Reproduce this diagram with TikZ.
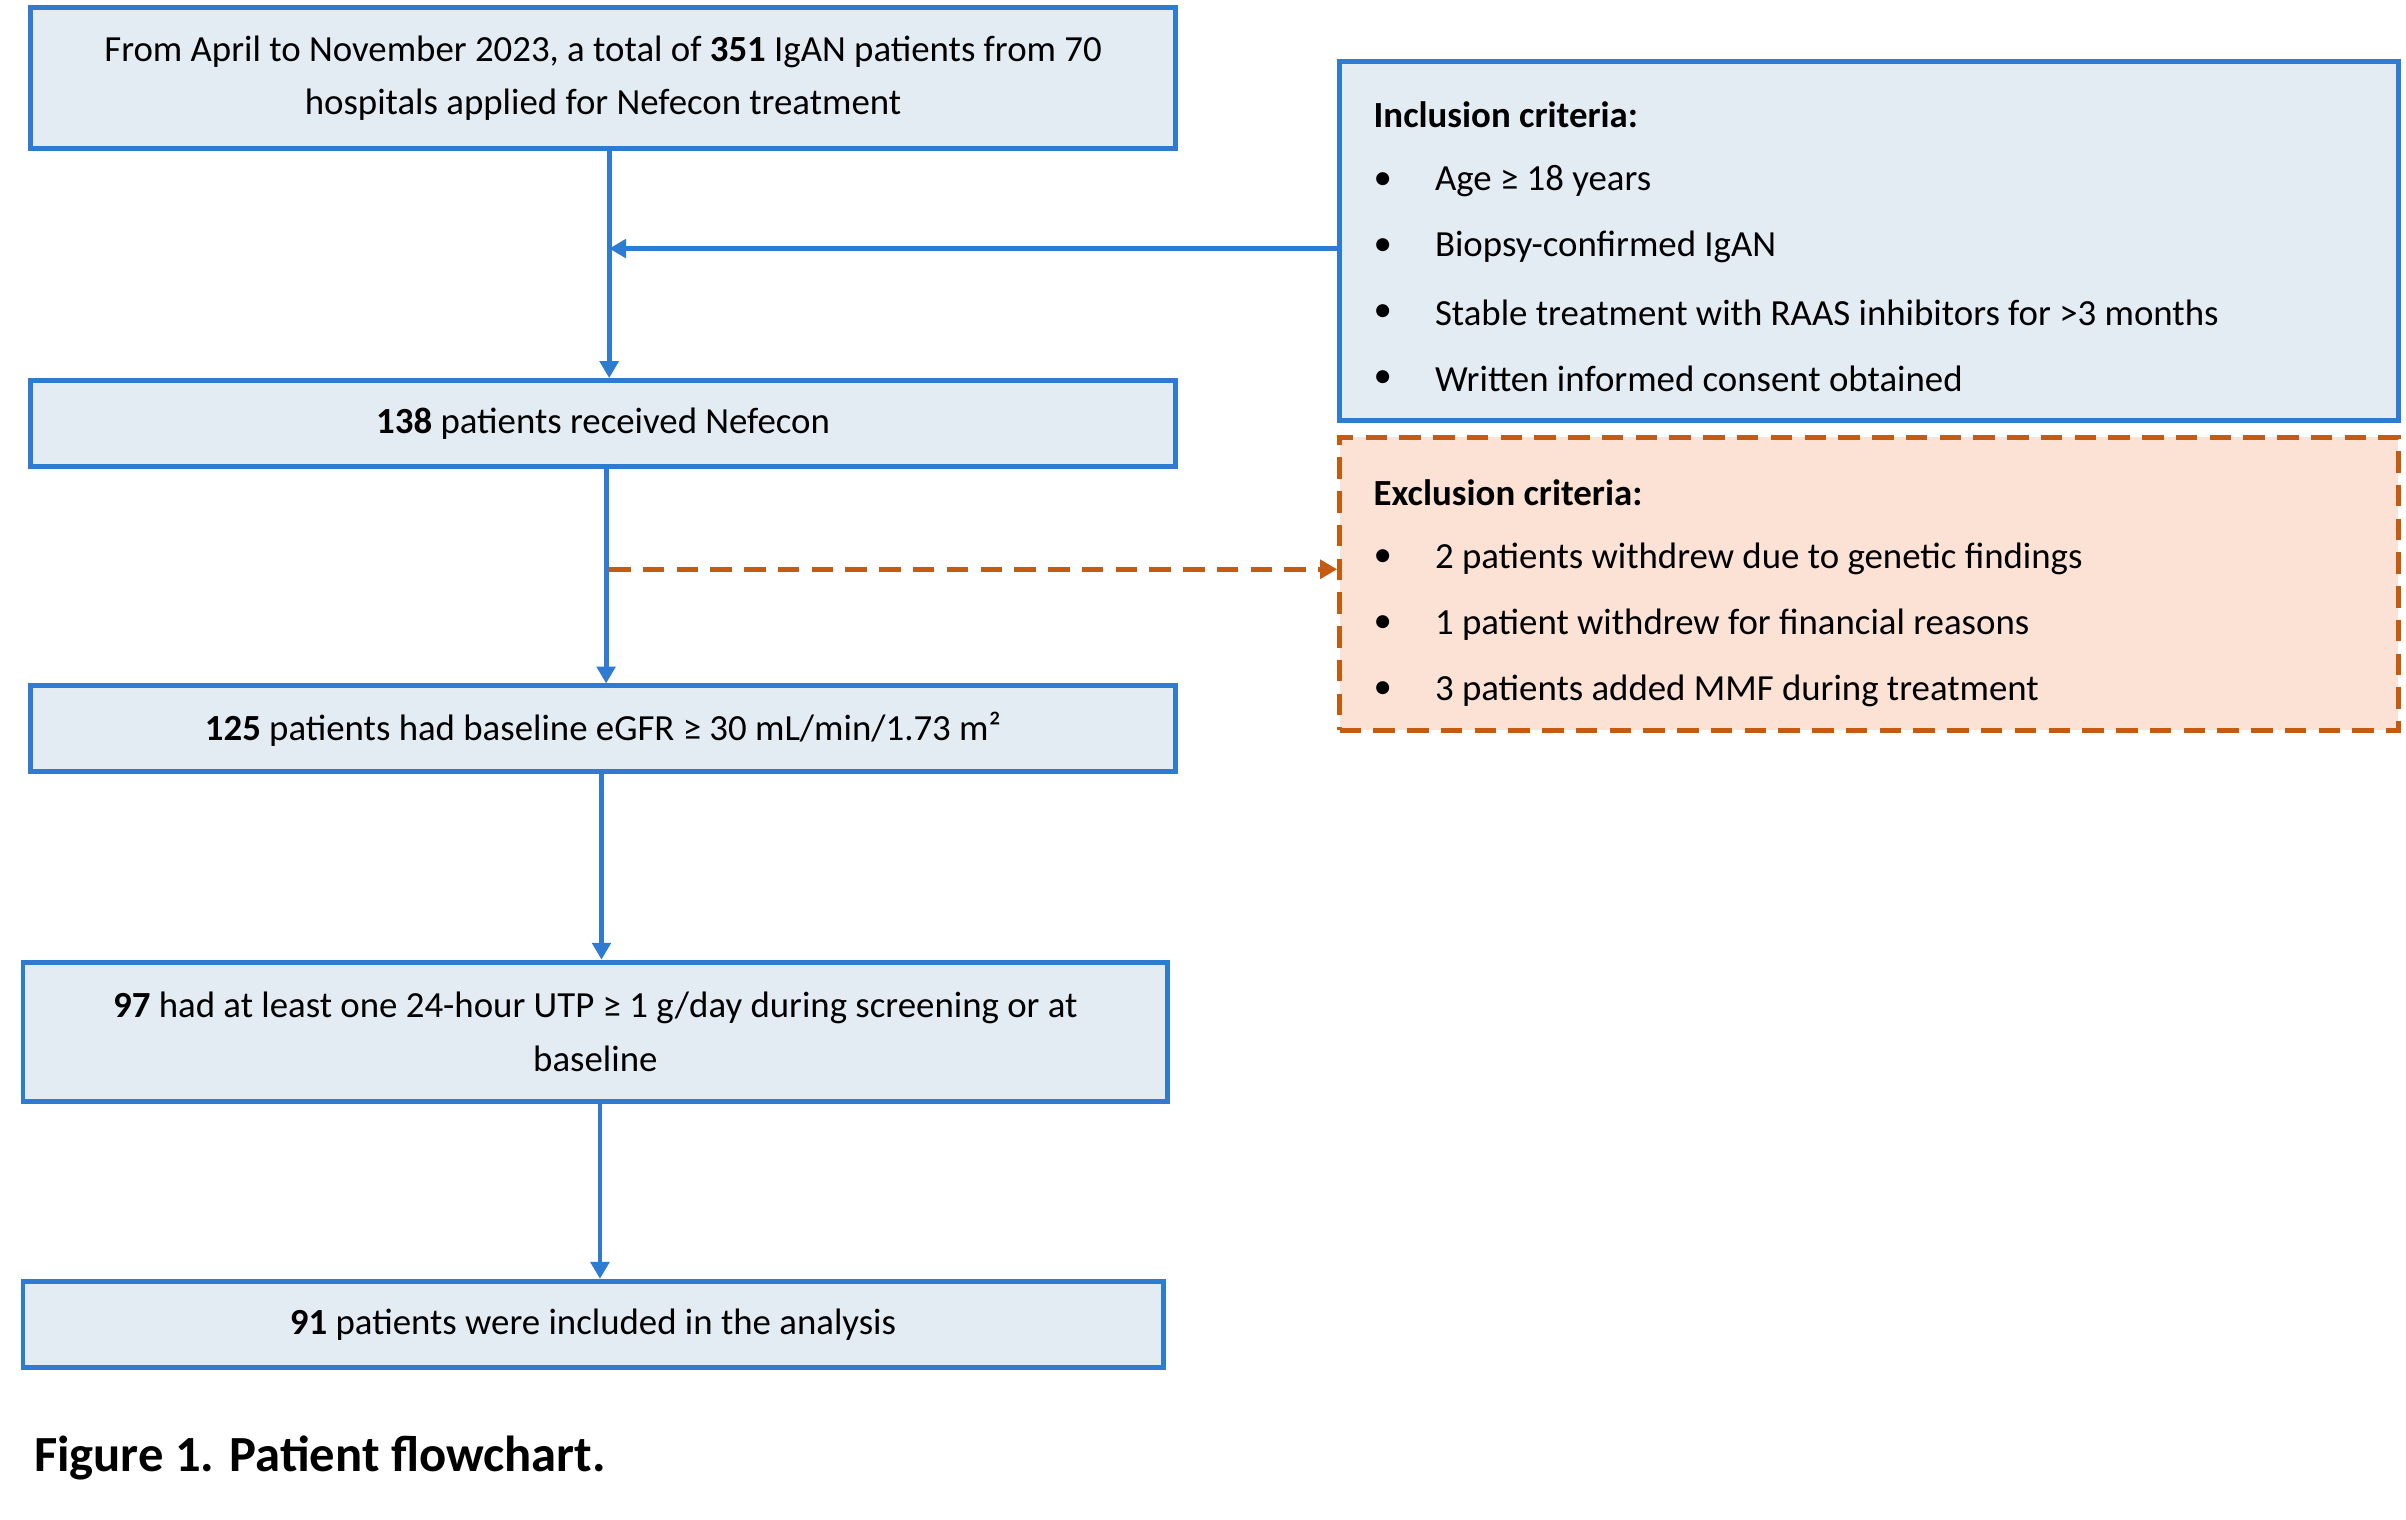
\documentclass[tikz,border=0pt]{standalone}
\usepackage{fontspec}
\setmainfont{Carlito}
\usetikzlibrary{arrows.meta}
\definecolor{bb}{HTML}{2E7BD1}\definecolor{bf}{HTML}{E3EBF3}
\definecolor{ob}{HTML}{C55A11}\definecolor{of}{HTML}{FBE2D5}
\begin{document}
\begin{tikzpicture}[x=1pt,y=-1pt,
 box/.style={draw=bb,fill=bf,line width=3.2pt,inner sep=0pt,align=center,font=\fontsize{24}{35}\selectfont},
 arr/.style={draw=bb,line width=3.2pt,-{Triangle[length=11pt,width=12pt]}},
 t/.style={anchor=west,inner sep=0pt,font=\fontsize{24}{29}\selectfont}]
\useasboundingbox (0,0) rectangle (1568,990);
\node[box,minimum width=746,minimum height=92] (b1) at (393,51) {From April to November 2023, a total of \textbf{351} IgAN patients from 70\\hospitals applied for Nefecon treatment};
\node[box,minimum width=746,minimum height=56] (b2) at (393,276) {\textbf{138} patients received Nefecon};
\node[box,minimum width=746,minimum height=56] (b3) at (393,475) {\textbf{125} patients had baseline eGFR ≥ 30 mL/min/1.73 m²};
\node[box,minimum width=746,minimum height=91] (b4) at (388,672.5) {\textbf{97} had at least one 24-hour UTP ≥ 1 g/day during screening or at\\baseline};
\node[box,minimum width=743,minimum height=56] (b5) at (386.5,863) {\textbf{91} patients were included in the analysis};
\node[box,minimum width=690,minimum height=234] (inc) at (1218,157) {};
\node[draw=ob,fill=of,line width=3.2pt,dash pattern=on 14pt off 8pt,minimum width=690,minimum height=191,inner sep=0pt] (exc) at (1218,380.5) {};
\node[t] (it) at (895,75) {\textbf{Inclusion criteria:}};
\foreach \y/\s [count=\i] in {118/Age ≥ 18 years,161/Biopsy-confirmed IgAN,204/Stable treatment with RAAS inhibitors for >3 months,247/Written informed consent obtained}{
 \node[t] (ib\i) at (895,\y) {•}; \node[t] (il\i) at (935,\y) {\s};}
\node[t] (et) at (895,321) {\textbf{Exclusion criteria:}};
\foreach \y/\s [count=\i] in {364/2 patients withdrew due to genetic findings,407/1 patient withdrew for financial reasons,450/3 patients added MMF during treatment}{
 \node[t] (eb\i) at (895,\y) {•}; \node[t] (el\i) at (935,\y) {\s};}
\coordinate (x1) at (397,0);\coordinate (x2) at (395,0);\coordinate (x3) at (392,0);\coordinate (x4) at (391,0);
\coordinate (j1) at (397,162);\coordinate (j2) at (397,371);
\draw[arr] (b1.south-|x1) -- (b2.north-|x1);
\draw[arr] (inc.west|-j1) -- (j1);
\draw[arr] (b2.south-|x2) -- (b3.north-|x2);
\draw[draw=ob,line width=3.2pt,dash pattern=on 14pt off 8pt,-{Triangle[length=11pt,width=12pt]}] (j2) -- (exc.west|-j2);
\draw[arr] (b3.south-|x3) -- (b4.north-|x3);
\draw[arr] (b4.south-|x4) -- (b5.north-|x4);
\node[t,font=\fontsize{33}{40}\selectfont\bfseries] (cap) at (22,950) {Figure 1. Patient flowchart.};
\end{tikzpicture}
\end{document}
